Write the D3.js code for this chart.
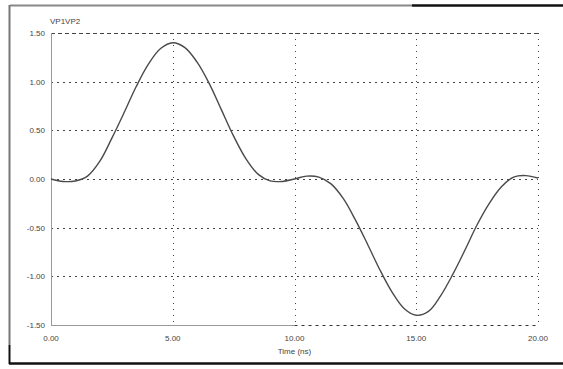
<!DOCTYPE html>
<html>
<head>
<meta charset="utf-8">
<script src="https://cdn.jsdelivr.net/npm/d3@7"></script>
<style>
  body { margin: 0; background: #fff; }
  svg { display: block; }
  text { font-family: "Liberation Sans", Arial, sans-serif; fill: #444; }
</style>
</head>
<body>
<svg id="chart" width="563" height="369"></svg>
<script>
// time samples (ns) and VP1-VP2
const times = [0, 0.5, 1, 1.5, 2, 2.5, 3, 3.5, 4, 4.5, 5, 5.5, 6, 6.5, 7, 7.5, 8, 8.5, 9, 9.5,
  10, 10.5, 11, 11.5, 12, 12.5, 13, 13.5, 14, 14.5, 15, 15.5, 16, 16.5, 17, 17.5, 18, 18.5, 19, 19.5, 20];
const volts = [0.00, -0.025, -0.02, 0.03, 0.18, 0.42, 0.68, 0.95, 1.18, 1.34, 1.40, 1.35, 1.20, 0.98, 0.71, 0.44, 0.21, 0.05, -0.02, -0.025,
  0.00, 0.03, 0.02, -0.05, -0.20, -0.42, -0.67, -0.93, -1.16, -1.33, -1.40, -1.36, -1.20, -0.98, -0.73, -0.47, -0.25, -0.08, 0.02, 0.035, 0.01];
const xTicks = [0, 5, 10, 15, 20];
const yTicks = [1.5, 1.0, 0.5, 0.0, -0.5, -1.0, -1.5];
const yTitle = "VP1VP2";
const xTitle = "Time (ns)";

const svg = d3.select("#chart");
const plotL = 51, plotR = 538, plotT = 33, plotB = 325;

const x = d3.scaleLinear().domain([0, 20]).range([plotL, plotR]);
const y = d3.scaleLinear().domain([-1.5, 1.5]).range([plotB, plotT]);

// outer frame (scanned border)
svg.append("line").attr("x1", 10).attr("x2", 412).attr("y1", 5.5).attr("y2", 5.5)
  .attr("stroke", "#888").attr("stroke-width", 2);
svg.append("line").attr("x1", 412).attr("x2", 563).attr("y1", 5.5).attr("y2", 5.5)
  .attr("stroke", "#111").attr("stroke-width", 2.5);
svg.append("line").attr("x1", 9.5).attr("x2", 9.5).attr("y1", 5).attr("y2", 345)
  .attr("stroke", "#777").attr("stroke-width", 2);
svg.append("line").attr("x1", 9.5).attr("x2", 9.5).attr("y1", 345).attr("y2", 364)
  .attr("stroke", "#111").attr("stroke-width", 2);
svg.append("line").attr("x1", 9).attr("x2", 563).attr("y1", 363.5).attr("y2", 363.5)
  .attr("stroke", "#111").attr("stroke-width", 2.5);

// horizontal grid
yTicks.filter(d => d > -1.5).forEach(d => {
  svg.append("line")
    .attr("x1", plotL).attr("x2", plotR)
    .attr("y1", Math.round(y(d)) + 0.5).attr("y2", Math.round(y(d)) + 0.5)
    .attr("stroke", "#444").attr("stroke-width", 1)
    .attr("stroke-dasharray", d === 1.5 ? "4,3" : "2,4");
});
// vertical grid
xTicks.filter(d => d > 0).forEach(d => {
  svg.append("line")
    .attr("x1", Math.round(x(d)) + 0.5).attr("x2", Math.round(x(d)) + 0.5)
    .attr("y1", plotT).attr("y2", plotB)
    .attr("stroke", "#444").attr("stroke-width", 1)
    .attr("stroke-dasharray", "1,5");
});

// axis frame
svg.append("line").attr("x1", plotL + 0.5).attr("x2", plotL + 0.5).attr("y1", plotT).attr("y2", plotB)
  .attr("stroke", "#999").attr("stroke-width", 1);
svg.append("line").attr("x1", plotL).attr("x2", x(10)).attr("y1", plotB + 0.5).attr("y2", plotB + 0.5)
  .attr("stroke", "#999").attr("stroke-width", 1);
svg.append("line").attr("x1", x(10)).attr("x2", plotR).attr("y1", plotB + 0.5).attr("y2", plotB + 0.5)
  .attr("stroke", "#333").attr("stroke-width", 1).attr("stroke-dasharray", "3,4");

// curve
const pts = times.map((t, i) => [t, volts[i]]);
svg.append("path")
  .datum(pts)
  .attr("fill", "none")
  .attr("stroke", "#4a4a4a")
  .attr("stroke-width", 1.4)
  .attr("d", d3.line().x(d => x(d[0])).y(d => y(d[1])).curve(d3.curveCatmullRom));

// tick labels
svg.selectAll(".ylab").data(yTicks).enter().append("text")
  .attr("x", 45).attr("y", d => y(d) + 3)
  .attr("text-anchor", "end").attr("font-size", 8)
  .text(d => d.toFixed(2));
svg.selectAll(".xlab").data(xTicks).enter().append("text")
  .attr("x", d => x(d)).attr("y", 341)
  .attr("text-anchor", "middle").attr("font-size", 8)
  .text(d => d.toFixed(2));

svg.append("text").attr("x", 50).attr("y", 24).attr("font-size", 8).text(yTitle);
svg.append("text").attr("x", x(10)).attr("y", 354).attr("text-anchor", "middle")
  .attr("font-size", 8).text(xTitle);
</script>
</body>
</html>
